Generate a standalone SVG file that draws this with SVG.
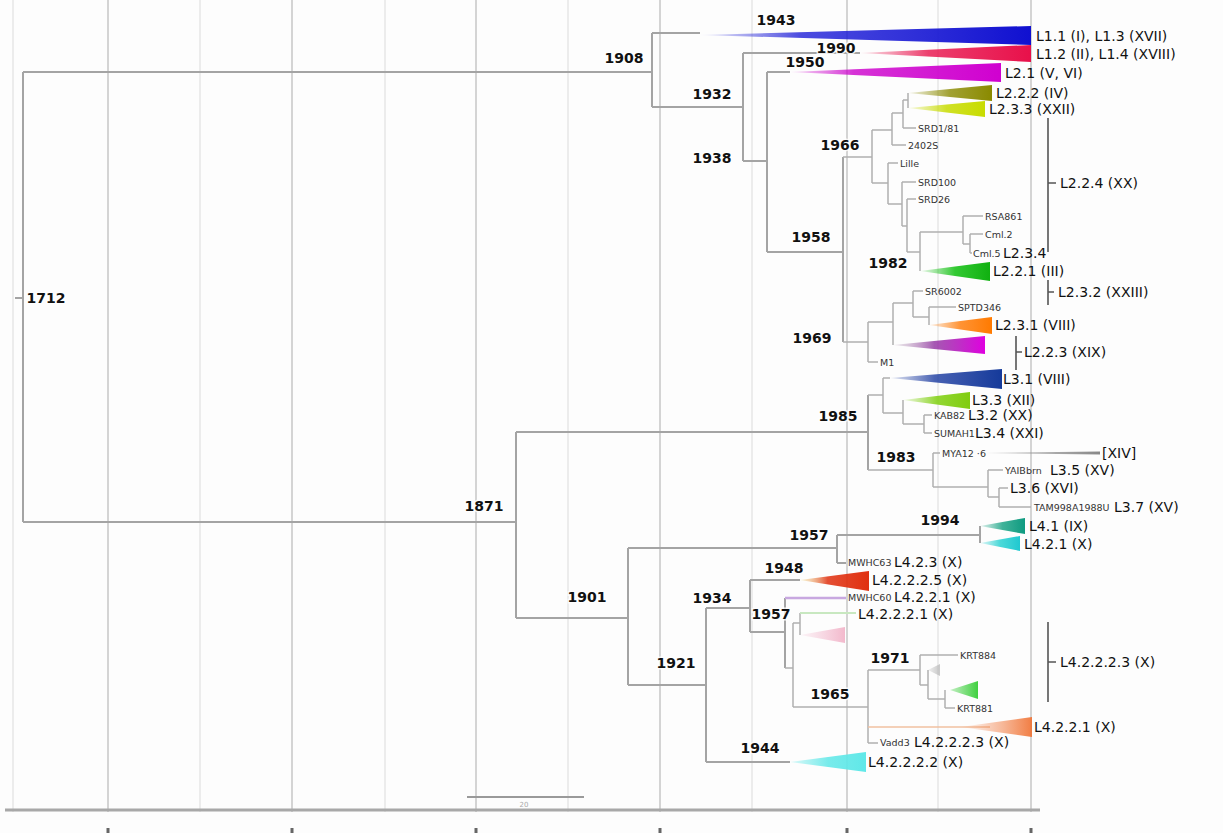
<svg xmlns="http://www.w3.org/2000/svg" width="1223" height="833" viewBox="0 0 1223 833">
<style>
.bg{fill:#fdfdfd}
.gM{stroke:#d4d4d4;stroke-width:2}
.gm{stroke:#ececec;stroke-width:2}
.br{fill:none;stroke:#a4a4a4;stroke-width:2}
.bt{fill:none;stroke:#b0b0b0;stroke-width:1.5}
.bk{fill:none;stroke:#555;stroke-width:1.6}
.nl{font-family:"DejaVu Sans",sans-serif;font-size:14px;font-weight:bold;fill:#111;text-anchor:middle;stroke:#fff;stroke-width:3;stroke-opacity:0.8;paint-order:stroke}
.cl{font-family:"DejaVu Sans",sans-serif;font-size:14px;fill:#111}
.lf{font-family:"DejaVu Sans",sans-serif;font-size:9.5px;fill:#333}
</style>
<defs>
<linearGradient id="gBlue"><stop offset="0" stop-color="#2020d8" stop-opacity="0.05"/><stop offset="0.3" stop-color="#2020d8" stop-opacity="0.8"/><stop offset="1" stop-color="#1010d0"/></linearGradient>
<linearGradient id="gRed"><stop offset="0" stop-color="#e8104a" stop-opacity="0.1"/><stop offset="0.4" stop-color="#e8104a" stop-opacity="0.8"/><stop offset="1" stop-color="#e8104a"/></linearGradient>
<linearGradient id="gMag"><stop offset="0" stop-color="#cc00cc" stop-opacity="0.1"/><stop offset="0.3" stop-color="#cc00cc" stop-opacity="0.8"/><stop offset="1" stop-color="#d000d0"/></linearGradient>
<linearGradient id="gOli"><stop offset="0" stop-color="#8a8a00" stop-opacity="0.1"/><stop offset="0.5" stop-color="#8a8a00" stop-opacity="0.8"/><stop offset="1" stop-color="#8a8a00"/></linearGradient>
<linearGradient id="gYel"><stop offset="0" stop-color="#c8dc00" stop-opacity="0.1"/><stop offset="0.5" stop-color="#c8dc00" stop-opacity="0.85"/><stop offset="1" stop-color="#c8dc00"/></linearGradient>
<linearGradient id="gGrn"><stop offset="0" stop-color="#10c010" stop-opacity="0.05"/><stop offset="0.5" stop-color="#10c010" stop-opacity="0.85"/><stop offset="1" stop-color="#10b010"/></linearGradient>
<linearGradient id="gOra"><stop offset="0" stop-color="#ff8010" stop-opacity="0.1"/><stop offset="0.5" stop-color="#ff8010" stop-opacity="0.85"/><stop offset="1" stop-color="#ff7a00"/></linearGradient>
<linearGradient id="gMag2"><stop offset="0" stop-color="#b0a0b0" stop-opacity="0.2"/><stop offset="0.45" stop-color="#9030a0" stop-opacity="0.8"/><stop offset="1" stop-color="#e000e0"/></linearGradient>
<linearGradient id="gNavy"><stop offset="0" stop-color="#1a3aa0" stop-opacity="0.1"/><stop offset="0.4" stop-color="#1a3aa0" stop-opacity="0.8"/><stop offset="1" stop-color="#153a9a"/></linearGradient>
<linearGradient id="gLime"><stop offset="0" stop-color="#80d010" stop-opacity="0.1"/><stop offset="0.5" stop-color="#80d010" stop-opacity="0.85"/><stop offset="1" stop-color="#80cc10"/></linearGradient>
<linearGradient id="gTeal"><stop offset="0" stop-color="#10a080" stop-opacity="0.1"/><stop offset="0.5" stop-color="#10a080" stop-opacity="0.8"/><stop offset="1" stop-color="#0e9a80"/></linearGradient>
<linearGradient id="gCyan"><stop offset="0" stop-color="#20d0d0" stop-opacity="0.1"/><stop offset="0.5" stop-color="#20d0d0" stop-opacity="0.8"/><stop offset="1" stop-color="#20c8d0"/></linearGradient>
<linearGradient id="gRO"><stop offset="0" stop-color="#f0e080" stop-opacity="0.3"/><stop offset="0.4" stop-color="#e03010" stop-opacity="0.85"/><stop offset="1" stop-color="#e03010"/></linearGradient>
<linearGradient id="gPink"><stop offset="0" stop-color="#f0b0c8" stop-opacity="0.1"/><stop offset="1" stop-color="#f0a8c0" stop-opacity="0.8"/></linearGradient>
<linearGradient id="gGray"><stop offset="0" stop-color="#bbb" stop-opacity="0.2"/><stop offset="1" stop-color="#bbb" stop-opacity="0.8"/></linearGradient>
<linearGradient id="gGrn2"><stop offset="0" stop-color="#40d040" stop-opacity="0.3"/><stop offset="1" stop-color="#40d040"/></linearGradient>
<linearGradient id="gOra2"><stop offset="0" stop-color="#f07030" stop-opacity="0"/><stop offset="0.6" stop-color="#f07030" stop-opacity="0.5"/><stop offset="1" stop-color="#f07030" stop-opacity="0.9"/></linearGradient>
<linearGradient id="gCyan2"><stop offset="0" stop-color="#60e8e8" stop-opacity="0.2"/><stop offset="0.5" stop-color="#60e8e8" stop-opacity="0.85"/><stop offset="1" stop-color="#60e8e8"/></linearGradient>
<linearGradient id="gLine"><stop offset="0" stop-color="#999" stop-opacity="0.4"/><stop offset="1" stop-color="#888"/></linearGradient>
</defs>
<rect class="bg" x="0" y="0" width="1223" height="833"/>
<g id="grid">
<line class="gm" x1="13" y1="0" x2="13" y2="812"/>
<line class="gm" x1="200" y1="0" x2="200" y2="812"/>
<line class="gm" x1="385" y1="0" x2="385" y2="812"/>
<line class="gm" x1="568" y1="0" x2="568" y2="812"/>
<line class="gm" x1="752" y1="0" x2="752" y2="812"/>
<line class="gm" x1="938" y1="0" x2="938" y2="812"/>
<line class="gM" x1="108" y1="0" x2="108" y2="812"/>
<line class="gM" x1="292" y1="0" x2="292" y2="812"/>
<line class="gM" x1="476" y1="0" x2="476" y2="812"/>
<line class="gM" x1="660" y1="0" x2="660" y2="812"/>
<line class="gM" x1="847" y1="0" x2="847" y2="812"/>
<line class="gM" x1="1031" y1="0" x2="1031" y2="812"/>
</g>
<g id="axis">
<line x1="5" y1="810" x2="1040" y2="810" stroke="#a8a8a8" stroke-width="3"/>
<path d="M108 828V833M292 828V833M476 828V833M660 828V833M847 828V833M1031 828V833" stroke="#666" stroke-width="3"/>
<line x1="467" y1="797" x2="584" y2="797" stroke="#9a9a9a" stroke-width="2"/>
<text x="524" y="807" font-family="DejaVu Sans,sans-serif" font-size="7" fill="#aaa" text-anchor="middle">20</text>
</g>
<g id="connectors">
<path class="br" d="M15 298H23M23 72V522M23 72H652M23 522H516"/>
<path class="br" d="M652 33V107M652 33H700M652 107H743M743 53V161M743 53H860M743 161H767M767 72V252M767 72H790M767 252H843M843 157V342"/>
<path class="bt" d="M843 157H872M872 130V183M872 130H892M892 113V145M892 113H903M903 100V128M903 100H908M908 93V108M903 128H916M892 145H906M872 183H888M888 163V204M888 163H898M888 204H902M902 182V226M902 182H916M902 226H907M907 199V252M907 199H916M907 252H920M920 232V271M920 232H963M963 216V244M963 216H983M963 244H970M970 234V253M970 234H983M970 253H972"/>
<path class="bt" d="M843 342H868M868 322V362M868 362H878M868 322H893M893 303V345M893 303H913M913 291V317M913 291H923M913 317H929M929 307V325M929 307H956"/>
<path class="br" d="M516 432V618M516 432H868M868 395V470"/>
<path class="bt" d="M868 395H883M883 378V413M883 378H890M883 413H903M903 400V424M903 424H924M924 415V433M924 415H932M924 433H932M868 470H933M933 453V487M933 453H940M933 487H988M988 470V497M988 470H1003M988 497H999M999 488V507M999 488H1008M999 507H1031"/>
<polygon points="985,453 1100,451.5 1100,454.5" fill="url(#gLine)"/>
<path class="br" d="M516 618H628M628 548V685M628 548H837M837 535V563M837 535H980M980 526V543M837 563H846M628 685H706M706 608V762M706 608H750M750 580V632M750 580H800M750 632H785M785 598V668M706 762H790"/>
<line x1="785" y1="598" x2="846" y2="598" stroke="#c8a8e0" stroke-width="2.5"/>
<path class="bt" d="M785 668H793M793 623V707M793 623H800M800 613V635M793 707H868M868 670V743M868 670H920M920 655V685M920 655H958M920 685H928M928 670V699M928 699H945M945 690V708M945 708H955M868 743H878"/>
<line x1="800" y1="613" x2="856" y2="613" stroke="#c8e8c0" stroke-width="2"/>
<line x1="868" y1="727" x2="990" y2="727" stroke="#f0c0a0" stroke-width="1.5"/>
<path class="bk" d="M1048 118V252M1048 183H1056M1048 280V305M1048 292H1054M1016 336V370M1016 352H1022M1048 622V702M1048 662H1056"/>
</g>
<g id="root"><text class="nl" x="46" y="303">1712</text></g>
<g id="n1908"><text class="nl" x="624" y="63">1908</text></g>
<g id="n1943"><text class="nl" x="776" y="25">1943</text></g>
<g id="L1_1"><polygon points="700,35 1031,26 1031,45" fill="url(#gBlue)"/><text class="cl" x="1036" y="41">L1.1 (I), L1.3 (XVII)</text></g>
<g id="L1_2"><polygon points="860,53 1031,45 1031,62" fill="url(#gRed)"/><text class="nl" x="836" y="53">1990</text><text class="cl" x="1036" y="59">L1.2 (II), L1.4 (XVIII)</text></g>
<g id="n1932"><text class="nl" x="712" y="99">1932</text></g>
<g id="L2_1"><polygon points="790,72 1001,63 1001,82" fill="url(#gMag)"/><text class="nl" x="805" y="67">1950</text><text class="cl" x="1005" y="78">L2.1 (V, VI)</text></g>
<g id="n1938"><text class="nl" x="712" y="163">1938</text></g>
<g id="n1958"><text class="nl" x="811" y="242">1958</text></g>
<g id="n1966"><text class="nl" x="840" y="150">1966</text></g>
<g id="L2_2_2"><polygon points="908,93 992,85 992,101" fill="url(#gOli)"/><text class="cl" x="996" y="98">L2.2.2 (IV)</text></g>
<g id="L2_3_3"><polygon points="908,108 985,101 985,117" fill="url(#gYel)"/><text class="cl" x="989" y="114">L2.3.3 (XXII)</text></g>
<g id="leaves_L2a">
<text class="lf" x="918" y="132">SRD1/81</text>
<text class="lf" x="908" y="149">2402S</text>
<text class="lf" x="900" y="167">Lille</text>
<text class="lf" x="918" y="186">SRD100</text>
<text class="lf" x="918" y="203">SRD26</text>
<text class="lf" x="985" y="220">RSA861</text>
<text class="lf" x="985" y="238">Cml.2</text>
<text class="lf" x="973" y="257">Cml.5</text><text class="cl" x="1003" y="258">L2.3.4</text>
</g>
<g id="L2_2_4"><text class="cl" x="1060" y="188">L2.2.4 (XX)</text></g>
<g id="L2_2_1"><polygon points="920,271 990,262 990,281" fill="url(#gGrn)"/><text class="nl" x="888" y="268">1982</text><text class="cl" x="993" y="276">L2.2.1 (III)</text></g>
<g id="n1969"><text class="nl" x="812" y="343">1969</text>
<text class="lf" x="925" y="295">SR6002</text>
<text class="lf" x="958" y="311">SPTD346</text>
<text class="lf" x="880" y="366">M1</text></g>
<g id="L2_3_2"><text class="cl" x="1058" y="297">L2.3.2 (XXIII)</text></g>
<g id="L2_3_1"><polygon points="929,325 992,317 992,334" fill="url(#gOra)"/><text class="cl" x="995" y="330">L2.3.1 (VIII)</text></g>
<g id="L2_2_3"><polygon points="893,345 985,336 985,354" fill="url(#gMag2)"/><text class="cl" x="1024" y="357">L2.2.3 (XIX)</text></g>
<g id="n1985"><text class="nl" x="838" y="421">1985</text></g>
<g id="L3_1"><polygon points="890,378 1002,369 1002,389" fill="url(#gNavy)"/><text class="cl" x="1003" y="384">L3.1 (VIII)</text></g>
<g id="L3_3"><polygon points="903,400 970,392 970,409" fill="url(#gLime)"/><text class="cl" x="972" y="405">L3.3 (XII)</text></g>
<g id="L3_2"><text class="lf" x="934" y="419">KAB82</text><text class="cl" x="968" y="420">L3.2 (XX)</text></g>
<g id="L3_4"><text class="lf" x="934" y="437">SUMAH1</text><text class="cl" x="975" y="438">L3.4 (XXI)</text></g>
<g id="n1983"><text class="nl" x="896" y="462">1983</text>
<text class="lf" x="942" y="457">MYA12 ·6</text><text class="cl" x="1102" y="458">[XIV]</text></g>
<g id="L3_5"><text class="lf" x="1005" y="474">YAIBbrn</text><text class="cl" x="1050" y="475">L3.5 (XV)</text></g>
<g id="L3_6"><text class="cl" x="1010" y="493">L3.6 (XVI)</text></g>
<g id="L3_7"><text class="lf" x="1034" y="511">TAM998A1988U</text><text class="cl" x="1114" y="512">L3.7 (XV)</text></g>
<g id="n1871"><text class="nl" x="484" y="511">1871</text></g>
<g id="n1901"><text class="nl" x="587" y="602">1901</text></g>
<g id="n1957a"><text class="nl" x="809" y="540">1957</text></g>
<g id="L4_1"><polygon points="980,526 1025,518 1025,534" fill="url(#gTeal)"/><text class="nl" x="940" y="525">1994</text><text class="cl" x="1029" y="531">L4.1 (IX)</text></g>
<g id="L4_2_1"><polygon points="980,543 1020,536 1020,551" fill="url(#gCyan)"/><text class="cl" x="1024" y="549">L4.2.1 (X)</text></g>
<g id="L4_2_3"><text class="lf" x="848" y="566">MWHC63</text><text class="cl" x="894" y="567">L4.2.3 (X)</text></g>
<g id="L4_2_2_2_5"><polygon points="800,580 869,571 869,591" fill="url(#gRO)"/><text class="nl" x="784" y="573">1948</text><text class="cl" x="872" y="585">L4.2.2.2.5 (X)</text></g>
<g id="n1934"><text class="nl" x="712" y="603">1934</text></g>
<g id="L4_2_2_1a"><text class="lf" x="848" y="601">MWHC60</text><text class="cl" x="894" y="602">L4.2.2.1 (X)</text></g>
<g id="n1957b"><text class="nl" x="771" y="619">1957</text></g>
<g id="L4_2_2_2_1"><text class="cl" x="858" y="619">L4.2.2.2.1 (X)</text><polygon points="800,635 845,627 845,643" fill="url(#gPink)"/></g>
<g id="n1921"><text class="nl" x="676" y="668">1921</text></g>
<g id="n1965"><text class="nl" x="830" y="699">1965</text></g>
<g id="n1971"><text class="nl" x="890" y="663">1971</text>
<text class="lf" x="960" y="659">KRT884</text>
<polygon points="928,670 940,664 940,676" fill="url(#gGray)"/>
<polygon points="950,690 978,681 978,699" fill="url(#gGrn2)"/>
<text class="lf" x="957" y="712">KRT881</text></g>
<g id="L4_2_2_2_3"><text class="cl" x="1060" y="667">L4.2.2.2.3 (X)</text></g>
<g id="L4_2_2_1"><polygon points="960,727 1032,717 1032,737" fill="url(#gOra2)"/><text class="cl" x="1034" y="732">L4.2.2.1 (X)</text></g>
<g id="Vadd3"><text class="lf" x="880" y="746">Vadd3</text><text class="cl" x="914" y="747">L4.2.2.2.3 (X)</text></g>
<g id="L4_2_2_2_2"><polygon points="790,762 866,752 866,772" fill="url(#gCyan2)"/><text class="nl" x="760" y="753">1944</text><text class="cl" x="868" y="767">L4.2.2.2.2 (X)</text></g>
</svg>
